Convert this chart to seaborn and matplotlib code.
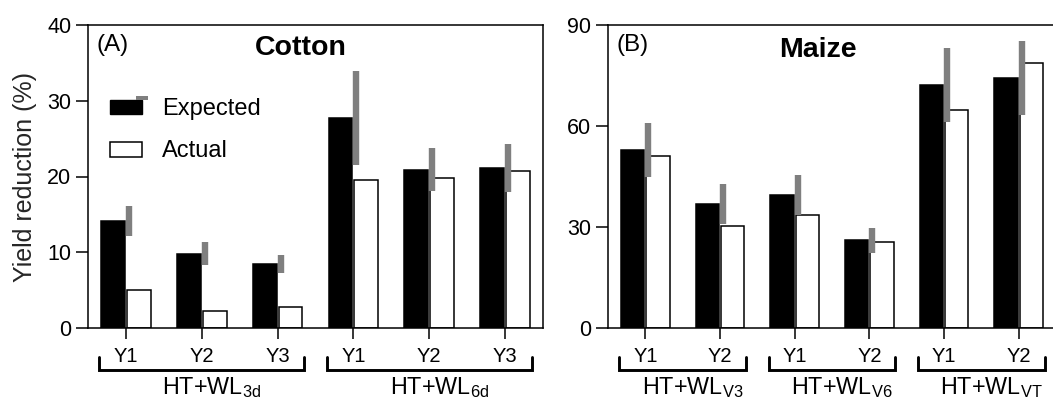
import numpy as np
import pandas as pd
import matplotlib
matplotlib.use("Agg")
import matplotlib.pyplot as plt
import matplotlib.transforms as mtransforms
from matplotlib.patches import Rectangle, Patch
from matplotlib.legend_handler import HandlerBase
import seaborn as sns

# ---------------- data ----------------
cotton_years = ["Y1", "Y2", "Y3", "Y1", "Y2", "Y3"]
cotton_groups = ["3d", "3d", "3d", "6d", "6d", "6d"]
cotton_expected = [14.1, 9.8, 8.5, 27.7, 20.9, 21.1]
cotton_actual = [5.0, 2.2, 2.8, 19.6, 19.8, 20.7]
cotton_err = [2.0, 1.5, 1.2, 6.2, 2.8, 3.2]

maize_years = ["Y1", "Y2", "Y1", "Y2", "Y1", "Y2"]
maize_groups = ["V3", "V3", "V6", "V6", "VT", "VT"]
maize_expected = [52.9, 36.8, 39.4, 26.0, 72.3, 74.2]
maize_actual = [51.1, 30.3, 33.6, 25.4, 64.7, 78.6]
maize_err = [8.0, 5.9, 5.9, 3.7, 11.0, 11.0]

series_names = ["Expected", "Actual"]
cotton_yticks = [0, 10, 20, 30, 40]
maize_yticks = [0, 30, 60, 90]

# ---------------- style ----------------
sns.set_style("ticks")
plt.rcParams["font.family"] = ["Liberation Sans", "DejaVu Sans"]
plt.rcParams["mathtext.fontset"] = "custom"
plt.rcParams["mathtext.rm"] = "Liberation Sans"
plt.rcParams["axes.linewidth"] = 1.1
plt.rcParams["axes.edgecolor"] = "black"
plt.rcParams["text.color"] = "black"
plt.rcParams["xtick.color"] = "black"
plt.rcParams["ytick.color"] = "black"

ERR_COLOR = "#7f7f7f"

fig = plt.figure(figsize=(10.53, 4.01), dpi=100)
ax1 = fig.add_axes([88 / 1053, 1 - 328 / 401, 455 / 1053, 303 / 401])
ax2 = fig.add_axes([608 / 1053, 1 - 328 / 401, 448 / 1053, 303 / 401])


def long_frame(years, groups, expected, actual):
    cats = [f"{g}-{y}" for g, y in zip(groups, years)]
    rows = []
    for c, e, a in zip(cats, expected, actual):
        rows.append({"cat": c, "series": series_names[0], "value": e})
        rows.append({"cat": c, "series": series_names[1], "value": a})
    return pd.DataFrame(rows), cats


def draw_panel(ax, years, groups, expected, actual, err, yticks, title, tag,
               title_y):
    df, cats = long_frame(years, groups, expected, actual)
    sns.barplot(data=df, x="cat", y="value", hue="series", order=cats,
                hue_order=series_names,
                palette={"Expected": "black", "Actual": "white"},
                edgecolor="black", linewidth=1.1, width=0.68, gap=0.08,
                errorbar=None, legend=False, ax=ax, zorder=2)
    pos = np.arange(len(cats))
    exp = np.array(expected)
    e = np.array(err)
    ax.vlines(pos + 0.04, exp - e, exp + e, colors=ERR_COLOR, lw=4.6,
              zorder=3)

    ax.set_xlim(-0.5, len(cats) - 0.5)
    ax.set_ylim(yticks[0], yticks[-1])
    ax.set_yticks(yticks)
    ax.set_xticks(pos)
    ax.set_xticklabels(years)
    ax.set_xlabel("")
    ax.set_ylabel("")
    for s in ax.spines.values():
        s.set_visible(True)
        s.set_linewidth(1.1)
    ax.tick_params(axis="y", direction="out", length=9, width=1.1,
                   labelsize=15.5, pad=3)
    ax.tick_params(axis="x", direction="out", length=8, width=1.1,
                   labelsize=14.5, pad=5.5)

    ax.text(0.468, title_y, title, transform=ax.transAxes, ha="center",
            va="center", fontsize=20.5, fontweight="bold")
    ax.text(0.018, 0.935, tag, transform=ax.transAxes, ha="left",
            va="center", fontsize=17.5)

    # group brackets and labels
    trans = mtransforms.blended_transform_factory(ax.transData, ax.transAxes)
    uniq = []
    for g in groups:
        if g not in uniq:
            uniq.append(g)
    for g in uniq:
        idx = [i for i, gg in enumerate(groups) if gg == g]
        x0, x1 = pos[idx[0]] - 0.35, pos[idx[-1]] + 0.35
        ax.plot([x0, x0, x1, x1], [-0.096, -0.139, -0.139, -0.096],
                color="black", lw=2.1, transform=trans, clip_on=False,
                solid_joinstyle="miter")
        xc = (pos[idx[0]] + pos[idx[-1]]) / 2 + 0.13
        ax.text(xc, -0.218, r"HT+WL$_{\mathregular{" + g + "}}$",
                transform=trans, ha="center", va="baseline", fontsize=16.8,
                clip_on=False)
    return ax


draw_panel(ax1, cotton_years, cotton_groups, cotton_expected, cotton_actual,
           cotton_err, cotton_yticks, "Cotton", "(A)", 0.924)
draw_panel(ax2, maize_years, maize_groups, maize_expected, maize_actual,
           maize_err, maize_yticks, "Maize", "(B)", 0.917)

ax1.set_ylabel("Yield reduction (%)", fontsize=18)
ax1.yaxis.set_label_coords(-0.112, 0.5)


class ExpectedHandler(HandlerBase):
    def create_artists(self, legend, orig_handle, xdescent, ydescent, width,
                       height, fontsize, trans):
        body = Rectangle((-xdescent, -ydescent), width, height,
                         facecolor="black", edgecolor="black", lw=1.0,
                         transform=trans)
        mark = Rectangle((-xdescent + 0.83 * width, -ydescent + height),
                         0.37 * width, 0.25 * height, facecolor=ERR_COLOR,
                         edgecolor="none", transform=trans)
        return [body, mark]


h_exp = Patch(facecolor="black", edgecolor="black", label="Expected")
h_act = Patch(facecolor="white", edgecolor="black", linewidth=1.1,
              label="Actual")
ax1.legend(handles=[h_exp, h_act], labels=series_names,
           handler_map={h_exp: ExpectedHandler()},
           loc="upper left", bbox_to_anchor=(0.048, 0.758), frameon=False,
           borderaxespad=0, borderpad=0, fontsize=17, handlelength=1.36,
           handleheight=0.6, labelspacing=0.85, handletextpad=0.84)

fig.savefig("out.png", dpi=100)
